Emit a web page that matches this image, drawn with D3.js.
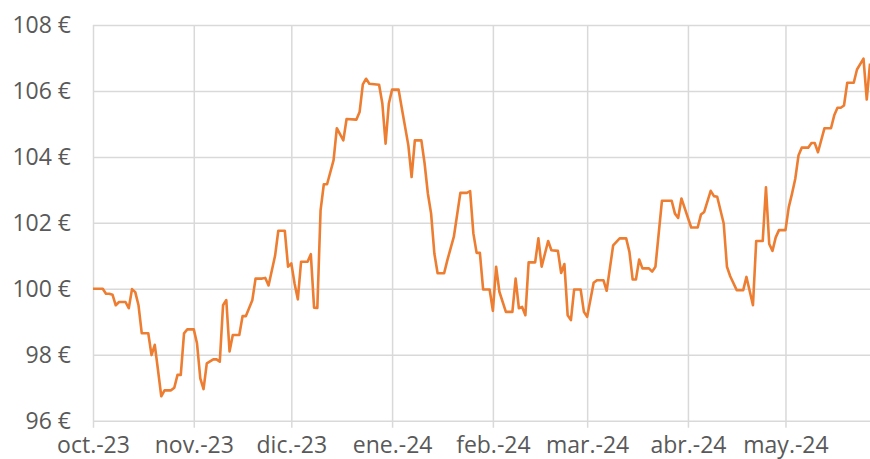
<!DOCTYPE html>
<html>
<head>
<meta charset="utf-8">
<script src="https://cdn.jsdelivr.net/npm/d3@7"></script>
<style>
  html, body { margin: 0; padding: 0; background: #fff; }
  svg { display: block; }
  text { font-family: "Open Sans", sans-serif; fill: #595959; }
</style>
</head>
<body>
<svg id="chart" width="870" height="459"></svg>
<script>
// ---- Data ----
const dates = [
  "2023-10-01","2023-10-04","2023-10-05","2023-10-06","2023-10-07","2023-10-08","2023-10-09","2023-10-11","2023-10-12","2023-10-13",
  "2023-10-14","2023-10-15","2023-10-16","2023-10-18","2023-10-19","2023-10-20","2023-10-21","2023-10-22","2023-10-23","2023-10-25",
  "2023-10-26","2023-10-27","2023-10-28","2023-10-29","2023-10-30",
  "2023-11-01","2023-11-02","2023-11-03","2023-11-04","2023-11-05","2023-11-07","2023-11-08","2023-11-09","2023-11-10","2023-11-11",
  "2023-11-12","2023-11-13","2023-11-15","2023-11-16","2023-11-17","2023-11-19","2023-11-20","2023-11-22","2023-11-23","2023-11-24",
  "2023-11-26","2023-11-27","2023-11-29","2023-11-30",
  "2023-12-01","2023-12-02","2023-12-03","2023-12-04","2023-12-06","2023-12-07","2023-12-08","2023-12-09","2023-12-10","2023-12-11",
  "2023-12-12","2023-12-14","2023-12-15","2023-12-17","2023-12-18","2023-12-21","2023-12-22","2023-12-23","2023-12-24","2023-12-25",
  "2023-12-28","2023-12-29","2023-12-30","2023-12-31",
  "2024-01-01","2024-01-03","2024-01-04","2024-01-06","2024-01-07","2024-01-08","2024-01-10","2024-01-11","2024-01-12","2024-01-13",
  "2024-01-14","2024-01-15","2024-01-17","2024-01-18","2024-01-20","2024-01-22","2024-01-24","2024-01-25","2024-01-26","2024-01-27",
  "2024-01-28","2024-01-29","2024-01-31",
  "2024-02-01","2024-02-02","2024-02-03","2024-02-05","2024-02-07","2024-02-08","2024-02-09","2024-02-10","2024-02-11","2024-02-12",
  "2024-02-14","2024-02-15","2024-02-16","2024-02-18","2024-02-19","2024-02-21","2024-02-22","2024-02-23","2024-02-24","2024-02-25",
  "2024-02-26","2024-02-28","2024-02-29",
  "2024-03-01","2024-03-03","2024-03-04","2024-03-06","2024-03-07","2024-03-09","2024-03-11","2024-03-13","2024-03-14","2024-03-15",
  "2024-03-16","2024-03-17","2024-03-18","2024-03-20","2024-03-21","2024-03-22","2024-03-24","2024-03-27","2024-03-28","2024-03-29",
  "2024-03-30",
  "2024-04-02","2024-04-04","2024-04-05","2024-04-06","2024-04-08","2024-04-09","2024-04-10","2024-04-12","2024-04-13","2024-04-14",
  "2024-04-16","2024-04-18","2024-04-19","2024-04-21","2024-04-22","2024-04-24","2024-04-25","2024-04-26","2024-04-27","2024-04-28",
  "2024-04-29",
  "2024-05-01","2024-05-02","2024-05-03","2024-05-04","2024-05-05","2024-05-06","2024-05-08","2024-05-09","2024-05-10","2024-05-11",
  "2024-05-13","2024-05-15","2024-05-16","2024-05-17","2024-05-18","2024-05-19","2024-05-20","2024-05-22","2024-05-23","2024-05-25",
  "2024-05-26","2024-05-27"
];
const prices = [
  100.0,100.0,99.85,99.85,99.82,99.5,99.6,99.6,99.41,99.99,
  99.9,99.5,98.65,98.65,97.99,98.3,97.53,96.74,96.92,96.92,
  97.0,97.39,97.39,98.65,98.77,
  98.77,98.34,97.28,96.96,97.74,97.86,97.86,97.79,99.5,99.66,
  98.1,98.6,98.6,99.17,99.17,99.65,100.31,100.31,100.33,100.1,
  101.0,101.76,101.76,100.67,
  100.77,100.16,99.68,100.82,100.82,101.05,99.43,99.42,102.38,103.17,
  103.17,103.9,104.87,104.5,105.15,105.13,105.36,106.2,106.37,106.22,
  106.19,105.62,104.4,105.62,
  106.04,106.04,105.47,104.35,103.39,104.5,104.5,103.8,102.89,102.28,
  101.07,100.47,100.47,100.87,101.58,102.91,102.91,102.96,101.68,101.09,
  101.09,99.98,99.98,
  99.33,100.67,99.91,99.3,99.3,100.31,99.41,99.45,99.2,100.8,
  100.8,101.53,100.67,101.45,101.17,101.15,100.48,100.75,99.2,99.05,
  99.98,99.98,99.3,
  99.15,100.18,100.26,100.26,99.94,101.32,101.53,101.53,101.12,100.28,
  100.28,100.89,100.62,100.62,100.52,100.67,102.67,102.67,102.28,102.15,
  102.74,
  101.86,101.86,102.25,102.33,102.97,102.81,102.79,101.98,100.67,100.38,
  99.96,99.96,100.36,99.5,101.45,101.45,103.08,101.36,101.15,101.56,
  101.78,
  101.78,102.47,102.88,103.33,104.04,104.28,104.28,104.42,104.42,104.14,
  104.87,104.87,105.26,105.49,105.49,105.56,106.25,106.25,106.65,106.98,
  105.74,106.83
];
const monthTicks = ["2023-10-01","2023-11-01","2023-12-01","2024-01-01","2024-02-01","2024-03-01","2024-04-01","2024-05-01"];
const monthLabels = ["oct.-23","nov.-23","dic.-23","ene.-24","feb.-24","mar.-24","abr.-24","may.-24"];
const yTicks = [96, 98, 100, 102, 104, 106, 108];

// ---- Chart ----
(function () {
  const parse = d3.timeParse("%Y-%m-%d");
  const data = dates.map((d, i) => ({ date: parse(d), value: prices[i] }));
  const tickDates = monthTicks.map(parse);

  const mLeft = 93, mRight = 870, mTop = 25, mBottom = 420.7;
  const svg = d3.select("#chart");

  const x = d3.scaleTime()
    .domain(d3.extent(data, d => d.date))
    .range([mLeft, mRight]);
  const y = d3.scaleLinear()
    .domain([96, 108])
    .range([mBottom, mTop]);

  // horizontal grid + y labels
  const yAxis = d3.axisLeft(y)
    .tickValues(yTicks)
    .tickSize(-(mRight - mLeft))
    .tickPadding(22)
    .tickFormat(d => d + " €");
  const gy = svg.append("g").attr("transform", `translate(${mLeft},0)`).call(yAxis);
  gy.select(".domain").remove();
  gy.selectAll(".tick line").attr("stroke", "#d9d9d9").attr("stroke-width", 1.5);
  gy.selectAll(".tick text").attr("font-size", 23).attr("fill", "#595959")
    .attr("font-family", "'Open Sans', sans-serif");

  // vertical grid + x labels
  const xAxis = d3.axisBottom(x)
    .tickValues(tickDates)
    .tickSize(7)
    .tickFormat((d, i) => monthLabels[i]);
  const gx = svg.append("g").attr("transform", `translate(0,${mBottom})`).call(xAxis);
  gx.select(".domain").remove();
  gx.selectAll(".tick line").attr("stroke", "#d9d9d9").attr("stroke-width", 1.5)
    .attr("y1", -(mBottom - mTop)).attr("y2", 7);
  gx.selectAll(".tick text").attr("font-size", 23).attr("fill", "#595959")
    .attr("font-family", "'Open Sans', sans-serif")
    .attr("y", 16).attr("dy", "0.71em");

  // line
  const line = d3.line().x(d => x(d.date)).y(d => y(d.value));
  svg.append("path")
    .datum(data)
    .attr("fill", "none")
    .attr("stroke", "#ED7D31")
    .attr("stroke-width", 2.6)
    .attr("stroke-linejoin", "round")
    .attr("d", line);
})();
</script>
</body>
</html>
